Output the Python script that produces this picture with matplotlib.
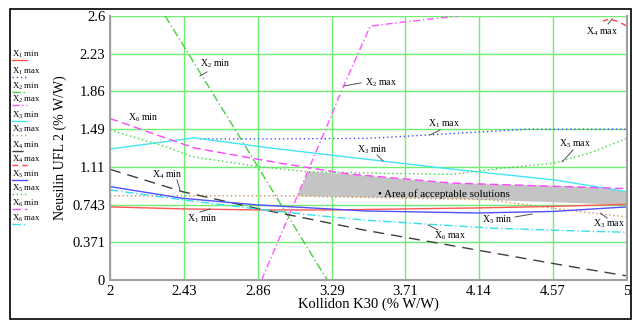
import matplotlib
matplotlib.use("Agg")
import matplotlib.pyplot as plt
from matplotlib.lines import Line2D
from matplotlib.patches import Rectangle

plt.rcParams['font.family'] = ['Liberation Serif', 'DejaVu Serif']
plt.rcParams['mathtext.fontset'] = 'custom'
plt.rcParams['mathtext.rm'] = 'Liberation Serif'
plt.rcParams['mathtext.it'] = 'Liberation Serif:italic'

# ---------------- data ----------------
x_ticks = [2, 2.43, 2.86, 3.29, 3.71, 4.14, 4.57, 5]
y_ticks = [0, 0.371, 0.743, 1.11, 1.49, 1.86, 2.23, 2.6]

x1min_x = [2, 2.43, 2.86, 3.29, 3.71, 4.14, 4.57, 5]
x1min_y = [0.72, 0.70, 0.69, 0.69, 0.70, 0.71, 0.725, 0.745]
x1max_x = [2.52, 3.0, 3.5, 3.86, 4.42, 5.0]
x1max_y = [1.39, 1.39, 1.395, 1.43, 1.485, 1.485]
x2min_x = [2.32, 2.77, 3.26]
x2min_y = [2.6, 1.36, 0.0]
x2max_x = [2.88, 3.25, 3.34, 3.51, 3.70, 4.02]
x2max_y = [0.0, 1.48, 1.85, 2.50, 2.54, 2.6]
x3min_x = [2, 2.49, 2.93, 3.94, 4.58, 5]
x3min_y = [1.29, 1.40, 1.30, 1.10, 0.985, 0.87]
x3max_x = [2, 3.0, 3.6, 4.2, 4.6, 5]
x3max_y = [0.83, 0.83, 0.81, 0.79, 0.70, 0.62]
x4min_x = [2, 2.42, 2.85, 3.48, 4.62, 5]
x4min_y = [1.09, 0.87, 0.706, 0.49, 0.148, 0.04]
x4max_x = [4.86, 4.90, 4.95, 5.0]
x4max_y = [2.55, 2.57, 2.545, 2.50]
x5min_x = [2, 2.42, 2.85, 3.48, 4.13, 4.57, 5]
x5min_y = [0.92, 0.805, 0.74, 0.68, 0.66, 0.675, 0.72]
x5max_x = [2, 2.33, 2.475, 2.86, 3.14, 3.6, 3.98, 4.27, 4.575, 4.8, 5]
x5max_y = [1.478, 1.31, 1.215, 1.117, 1.067, 1.05, 1.04, 1.10, 1.15, 1.26, 1.396]
x6min_x = [2, 2.49, 2.99, 3.38, 3.98, 5]
x6min_y = [1.59, 1.30, 1.15, 1.045, 0.955, 0.90]
x6max_x = [2, 2.42, 2.82, 3.17, 3.48, 3.84, 4.23, 4.575, 5]
x6max_y = [0.887, 0.79, 0.706, 0.64, 0.59, 0.55, 0.51, 0.49, 0.47]

area_x = [3.086, 3.15, 3.376, 3.977, 4.6, 4.8, 5.0, 5.0, 4.5, 3.98, 3.3]
area_y = [0.827, 1.067, 1.044, 0.953, 0.925, 0.915, 0.87, 0.74, 0.77, 0.80, 0.82]

legend_labels = [r'X$_{1}$ min', r'X$_{1}$ max', r'X$_{2}$ min', r'X$_{2}$ max',
                 r'X$_{3}$ min', r'X$_{3}$ max', r'X$_{4}$ min', r'X$_{4}$ max',
                 r'X$_{5}$ min', r'X$_{5}$ max', r'X$_{6}$ min', r'X$_{6}$ max']

# ---------------- styles ----------------
series = [
    (x1min_x, x1min_y, '#ff5555', '-'),
    (x1max_x, x1max_y, '#4848ff', (0, (1, 2))),
    (x2min_x, x2min_y, '#44d044', (0, (6, 2, 1, 2))),
    (x2max_x, x2max_y, '#ff55ff', (0, (5, 2, 1, 2))),
    (x3min_x, x3min_y, '#44e4f4', '-'),
    (x3max_x, x3max_y, '#d09050', (0, (1, 2))),
    (x4min_x, x4min_y, '#404040', (0, (8, 5))),
    (x4max_x, x4max_y, '#ff4444', (0, (4, 3))),
    (x5min_x, x5min_y, '#5050ff', '-'),
    (x5max_x, x5max_y, '#44d044', (0, (1, 2))),
    (x6min_x, x6min_y, '#ff44ff', (0, (6, 3))),
    (x6max_x, x6max_y, '#33e0f0', (0, (6, 2, 1, 2))),
]

fig = plt.figure(figsize=(6.32, 3.2), dpi=100)
ax = fig.add_axes([110/632, 40/320, 517/632, 264/320])

ax.fill(area_x, area_y, color='#c4c4c4', lw=0, zorder=1)
for gx in x_ticks:
    ax.axvline(gx, color='#70ee70', lw=1.0, zorder=0.5)
for gy in y_ticks:
    ax.axhline(gy, color='#70ee70', lw=1.0, zorder=0.5)

for xs, ys, c, ls in series:
    ax.plot(xs, ys, color=c, ls=ls, lw=1.0, zorder=2)

ax.set_xlim(2, 5)
ax.set_ylim(0, 2.6)
ax.set_xticks(x_ticks)
ax.set_xticklabels([f'{v:g}' for v in x_ticks])
ax.set_yticks(y_ticks)
ax.set_yticklabels([f'{v:g}' for v in y_ticks])
ax.tick_params(length=0, labelsize=10.5, pad=3.5)
for s in ['left', 'bottom', 'right']:
    ax.spines[s].set_color('#a0a0a0')
    ax.spines[s].set_linewidth(1.5)
ax.spines['top'].set_visible(False)
ax.set_xlabel('Kollidon K30 (% W/W)', fontsize=10.5, labelpad=0)
ax.set_ylabel('Neusilin UFL 2 (% W/W)', fontsize=10, labelpad=4)

def px2d(px, py):
    return 2 + (px - 110) / 172.3, (280 - py) / 101.5

# annotations: text, text position, pointer start, pointer end (pixel read-offs)
annots = [
    (r'X$_{2}$ min', (200, 64), (200, 76), (207, 72)),
    (r'X$_{2}$ max', (365, 83), (344, 86), (361, 83)),
    (r'X$_{6}$ min', (128, 118), None, None),
    (r'X$_{1}$ max', (428, 124), (430, 135), (440, 130)),
    (r'X$_{3}$ min', (357, 150), (377, 155), (383, 161)),
    (r'X$_{5}$ max', (559, 144), (562, 162), (573, 150)),
    (r'X$_{4}$ min', (152, 175), (177, 180), (180, 190)),
    (r'X$_{1}$ min', (187, 219), (200, 212), (210, 209)),
    (r'X$_{5}$ min', (482, 220), (515, 217), (532, 214)),
    (r'X$_{3}$ max', (593, 224), (600, 213), (607, 218)),
    (r'X$_{6}$ max', (434, 236), (428, 225), (438, 230)),
    (r'X$_{4}$ max', (586, 32), (608, 24), (612, 19)),
]
for txt, (tx, ty), p0, p1 in annots:
    ax.text(*px2d(tx, ty), txt, fontsize=7, ha='left', va='center', zorder=4)
    if p0 is not None:
        a, b = px2d(*p0)
        c, d = px2d(*p1)
        ax.plot([a, c], [b, d], color='#505050', lw=0.7, zorder=4)

ax.text(*px2d(378, 194), '\u2022 Area of acceptable solutions', fontsize=8,
        ha='left', va='center', zorder=4)

# legend (manual)
leg_y = [54, 71, 86, 99, 115, 129, 145, 159, 174, 188, 203, 218]
for lab, yy, (xs, ys, c, ls) in zip(legend_labels, leg_y, series):
    fig.text(12/632, 1 - yy/320, lab, fontsize=6.3, ha='left', va='center')
    fig.add_artist(Line2D([12/632, 27/632], [1 - (yy + 6)/320] * 2,
                          color=c, ls=ls, lw=1.0, transform=fig.transFigure))

# figure frame
fig.add_artist(Rectangle((10/632, 1/320), 621/632, 310/320, fill=False,
                         ec='black', lw=1.2, transform=fig.transFigure))

fig.savefig('out.png', dpi=100)
